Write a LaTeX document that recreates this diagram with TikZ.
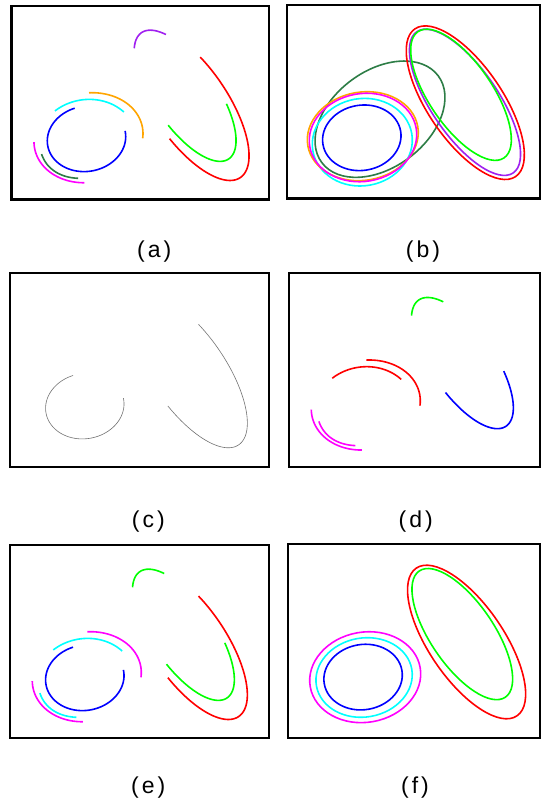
\documentclass[tikz,border=0pt]{standalone}
\usepackage{fontspec}
\setmainfont{Liberation Sans}
\definecolor{cRed}{RGB}{255,0,0}
\definecolor{cGreen}{RGB}{0,255,0}
\definecolor{cBlue}{RGB}{0,0,255}
\definecolor{cCyan}{RGB}{0,255,255}
\definecolor{cMagenta}{RGB}{255,0,255}
\definecolor{cPurple}{RGB}{160,32,240}
\definecolor{cOrange}{RGB}{255,165,0}
\definecolor{cDkGreen}{RGB}{45,125,70}
\tikzset{
  frame/.style={draw=black,line width=2.2pt},
  curve/.style={line width=1.6pt},
  hairline/.style={line width=0.6pt,draw=black!55},
  lab/.style={font=\fontsize{23}{26}\selectfont,inner sep=0pt,anchor=center}
}
\newcommand{\EArc}[8]{\draw[#1,shift={(#2,#3)},rotate=#6] plot[domain=#7:#8,samples=100] ({#4*cos(\x)},{#5*sin(\x)});}
\newcommand{\EFull}[6]{\draw[#1,shift={(#2,#3)},rotate=#6] (0,0) ellipse[x radius=#4,y radius=#5];}
\newcommand{\lbl}[1]{(\kern3pt#1\kern3pt)}
\begin{document}
\begin{tikzpicture}[x=1pt,y=1pt]
\useasboundingbox (0,0) rectangle (542,804);
\fill[white] (0,0) rectangle (542,804);
% frames
\draw[frame] (11.5,604.5) rectangle (269,798);
\draw[frame] (287,605.5) rectangle (540.3,799);
\draw[frame] (10,337) rectangle (268.7,530.7);
\draw[frame] (289,337.3) rectangle (540.3,530.7);
\draw[frame] (10,66) rectangle (268.7,259);
\draw[frame] (288.3,65.7) rectangle (540.3,259.7);
% (a)
\begin{scope}[shift={(11.7,798)}]
\EArc{curve,cPurple}{178}{-97.3}{85.5}{33.5}{-55.7}{145.2}{206.2}
\EArc{curve,cRed}{178.3}{-97.7}{89.4}{37.3}{-55.7}{-78.8}{111.5}
\EArc{curve,cGreen}{174}{-89.8}{76.4}{31.6}{-55.7}{-79.1}{67.2}
\EArc{curve,cBlue}{74.8}{-132.8}{39.4}{32.6}{10}{99.2}{361.9}
\EArc{curve,cCyan}{75.3}{-137.2}{50.2}{43.6}{10}{33.8}{121.1}
\EArc{curve,cOrange}{75.8}{-131.2}{55.8}{44.1}{10}{-14}{80.5}
\EArc{curve,cMagenta}{76}{-132.5}{54}{43.9}{10}{172.6}{258.4}
\EArc{curve,cDkGreen}{93}{-114.2}{72.6}{48.3}{36.7}{167.4}{219.4}
\end{scope}
% (b)
\begin{scope}[shift={(287,799)}]
\EFull{curve,cDkGreen}{93}{-114.2}{72.6}{48.3}{36.7}
\EFull{curve,cRed}{178.3}{-97.7}{89.4}{37.3}{-55.7}
\EFull{curve,cPurple}{178}{-97.3}{85.5}{33.5}{-55.7}
\EFull{curve,cGreen}{174}{-89.8}{76.4}{31.6}{-55.7}
\EFull{curve,cCyan}{75.3}{-137.2}{50.2}{43.6}{10}
\EFull{curve,cOrange}{75.8}{-131.2}{55.8}{44.1}{10}
\EFull{curve,cMagenta}{76}{-132.5}{54}{43.9}{10}
\EFull{curve,cBlue}{74.8}{-132.8}{39.4}{32.6}{10}
\end{scope}
% (c)
\begin{scope}[shift={(10,530.7)}]
\EArc{hairline}{178.3}{-97.7}{89.4}{37.3}{-55.7}{-78.8}{111.5}
\EArc{hairline}{74.8}{-132.8}{39.4}{32.6}{10}{99.2}{361.9}
\end{scope}
% (d)
\begin{scope}[shift={(289,530.7)}]
\EArc{curve,cGreen}{178}{-97.3}{85.5}{33.5}{-55.7}{145.2}{206.2}
\EArc{curve,cBlue}{174}{-89.8}{76.4}{31.6}{-55.7}{-79.1}{67.2}
\EArc{curve,cRed}{75.3}{-137.2}{50.2}{43.6}{10}{33.8}{121.1}
\EArc{curve,cRed}{75.8}{-131.2}{55.8}{44.1}{10}{-14}{80.5}
\EArc{curve,cMagenta}{76}{-132.5}{54}{43.9}{10}{172.6}{258.4}
\EArc{curve,cMagenta}{93}{-114.2}{72.6}{48.3}{36.7}{167.4}{219.4}
\end{scope}
% (e)
\begin{scope}[shift={(10,259)}]
\EArc{curve,cGreen}{178}{-97.3}{85.5}{33.5}{-55.7}{145.2}{206.2}
\EArc{curve,cRed}{178.3}{-97.7}{89.4}{37.3}{-55.7}{-78.8}{111.5}
\EArc{curve,cGreen}{174}{-89.8}{76.4}{31.6}{-55.7}{-79.1}{67.2}
\EArc{curve,cBlue}{74.8}{-132.8}{39.4}{32.6}{10}{99.2}{361.9}
\EArc{curve,cCyan}{75.3}{-137.2}{50.2}{43.6}{10}{33.8}{121.1}
\EArc{curve,cMagenta}{75.8}{-131.2}{55.8}{44.1}{10}{-14}{80.5}
\EArc{curve,cMagenta}{76}{-132.5}{54}{43.9}{10}{172.6}{258.4}
\EArc{curve,cCyan}{93}{-114.2}{72.6}{48.3}{36.7}{167.4}{219.4}
\end{scope}
% (f)
\begin{scope}[shift={(288.3,259.7)}]
\EFull{curve,cRed}{178.3}{-97.7}{89.4}{37.3}{-55.7}
\EFull{curve,cGreen}{174}{-89.8}{76.4}{31.6}{-55.7}
\EFull{curve,cMagenta}{76.9}{-132.9}{55.8}{45.1}{10}
\EFull{curve,cCyan}{75.8}{-133.2}{48.4}{39.5}{10}
\EFull{curve,cBlue}{74.8}{-132.8}{39.4}{32.6}{10}
\end{scope}
% labels
\node[lab] (la) at (154.2,552) {\lbl{a}};
\node[lab] (lb) at (423,552) {\lbl{b}};
\node[lab] (lc) at (148.3,282) {\lbl{c}};
\node[lab] (ld) at (415.8,282) {\lbl{d}};
\node[lab] (le) at (148.3,16) {\lbl{e}};
\node[lab] (lf) at (415,16) {\lbl{f}};
\end{tikzpicture}
\end{document}
